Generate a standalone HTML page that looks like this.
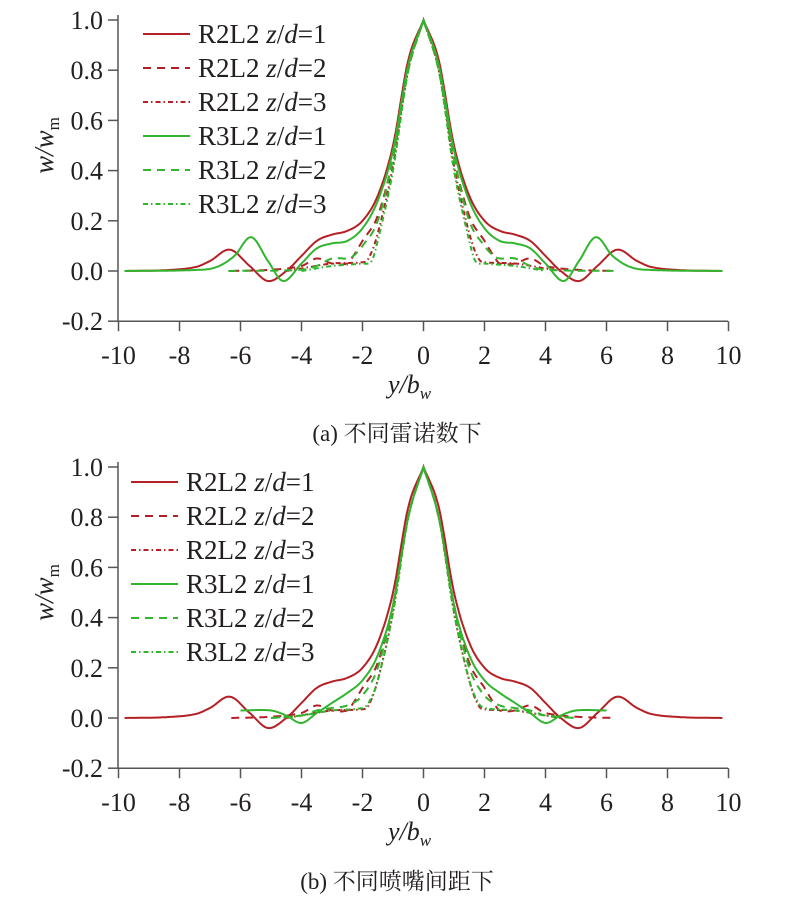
<!DOCTYPE html>
<html><head><meta charset="utf-8"><style>
body{margin:0;background:#fff}
svg text{font-family:"Liberation Serif","Noto Serif CJK SC",serif;fill:#231f20}
</style></head><body>
<svg id="s" width="795" height="914" xmlns="http://www.w3.org/2000/svg"></svg>
<script>
const S=document.getElementById('s');const NS='http://www.w3.org/2000/svg';
function el(t,a,txt){const e=document.createElementNS(NS,t);for(const k in a)e.setAttribute(k,a[k]);if(txt!==undefined)e.innerHTML=txt;S.appendChild(e);return e;}
const RED='#b52026',GRN='#31b52f';
function interp(pts,x){for(let i=0;i<pts.length-1;i++){if(x>=pts[i][0]&&x<=pts[i+1][0]){const p0=pts[Math.max(i-1,0)],p1=pts[i],p2=pts[i+1],p3=pts[Math.min(i+2,pts.length-1)];const t=(x-p1[0])/(p2[0]-p1[0]);const m1=(p2[1]-p0[1])/(p2[0]-p0[0]||1)*(p2[0]-p1[0]);const m2=(p3[1]-p1[1])/(p3[0]-p1[0]||1)*(p2[0]-p1[0]);const t2=t*t,t3=t2*t;return (2*t3-3*t2+1)*p1[1]+(t3-2*t2+t)*m1+(-2*t3+3*t2)*p2[1]+(t3-t2)*m2;}}return 0;}
function chart(y0,zeroY,lx,ly,curves){
 const X=v=>423.5+30.5*v, Y=v=>zeroY-251*v;
 el('line',{x1:118,y1:Y(1.02),x2:118,y2:Y(-0.2),stroke:'#555',"stroke-width":1.5});
 el('line',{x1:118,y1:Y(-0.2),x2:728,y2:Y(-0.2),stroke:'#555',"stroke-width":1.5});
 for(let v=-0.2;v<=1.001;v+=0.2){const y=Y(v);el('line',{x1:108,y1:y,x2:118,y2:y,stroke:'#555',"stroke-width":1.5});
  el('text',{x:103,y:y+9,"font-size":26,"text-anchor":"end"},Math.abs(v)<1e-6?'0.0':v.toFixed(1));}
 for(let v=-10;v<=10;v+=2){const x=X(v);el('line',{x1:x,y1:Y(-0.2),x2:x,y2:Y(-0.2)+10,stroke:'#555',"stroke-width":1.5});
  el('text',{x:x,y:Y(-0.2)+43,"font-size":26,"text-anchor":"middle"},String(v));}
 el('text',{x:388,y:Y(-0.2)+72,"font-size":26,"font-style":"italic"},'y/b<tspan font-size="17" dy="6">w</tspan>');
 el('text',{x:0,y:0,"font-size":27,transform:`translate(53,${Y(0.5)}) rotate(-90)`,"text-anchor":"middle","font-style":"italic"},'w/w<tspan font-size="17" dy="6" font-style="normal">m</tspan>');
 curves.forEach((c,i)=>{
  let d='';const xmax=c.p[c.p.length-1][0];
  for(let x=-xmax;x<=xmax+1e-9;x+=0.05){const v=interp(c.p,Math.abs(x));d+=(d?'L':'M')+X(x).toFixed(1)+','+Y(v).toFixed(1);}
  el('path',{d:d,fill:'none',stroke:c.c,"stroke-width":2,"stroke-dasharray":c.d||'none'});
  const yy=ly+i*34;
  el('line',{x1:lx,y1:yy,x2:lx+47,y2:yy,stroke:c.c,"stroke-width":2,"stroke-dasharray":c.d||'none'});
  el('text',{x:lx+55,y:yy+9,"font-size":27},c.n.replace(/z\/d/,'<tspan font-style="italic">z</tspan>/<tspan font-style="italic">d</tspan>'));
 });
}
const redS=[[0,1],[0.5,0.84],[1,0.5],[1.5,0.3],[2,0.2],[2.5,0.16],[3,0.145],[3.5,0.12],[4,0.06],[4.5,0.0],[5.1,-0.04],[5.7,0.02],[6.35,0.085],[7,0.04],[7.5,0.015],[8.5,0.003],[9.8,0]];
const redD=[[0,1],[0.5,0.8],[1,0.45],[1.5,0.22],[2,0.12],[2.3,0.06],[2.5,0.03],[3,0.03],[3.5,0.05],[4,0.02],[5,0.005],[6.3,0]];
const redDD=[[0,1],[0.5,0.8],[1,0.42],[1.5,0.15],[1.8,0.05],[2,0.035],[3,0.03],[4,0.01],[4.5,0]];
chart(20,271,143,34,[
 {n:'R2L2 z/d=1',c:RED,p:redS},
 {n:'R2L2 z/d=2',c:RED,d:'8,6',p:redD},
 {n:'R2L2 z/d=3',c:RED,d:'5,3,1.5,3',p:redDD},
 {n:'R3L2 z/d=1',c:GRN,p:[[0,1],[0.5,0.82],[1,0.48],[1.5,0.28],[2,0.17],[2.5,0.12],[3,0.11],[3.5,0.09],[4,0.03],[4.6,-0.04],[5.1,0.04],[5.65,0.135],[6.2,0.06],[6.8,0.015],[7.5,0.004],[9.8,0]]},
 {n:'R3L2 z/d=2',c:GRN,d:'8,6',p:[[0,1],[0.5,0.8],[1,0.45],[1.5,0.2],[2,0.1],[2.3,0.06],[2.5,0.05],[3,0.05],[3.5,0.02],[4,0.005],[6.4,0]]},
 {n:'R3L2 z/d=3',c:GRN,d:'5,3,1.5,3',p:[[0,1],[0.5,0.8],[1,0.4],[1.5,0.12],[1.7,0.04],[2,0.03],[3,0.02],[4,0]]}
]);
el('text',{x:397,y:441,"font-size":23,"text-anchor":"middle"},'(a) 不同雷诺数下');
chart(468,718,131,482,[
 {n:'R2L2 z/d=1',c:RED,p:redS},
 {n:'R2L2 z/d=2',c:RED,d:'8,6',p:redD},
 {n:'R2L2 z/d=3',c:RED,d:'5,3,1.5,3',p:redDD},
 {n:'R3L2 z/d=1',c:GRN,p:[[0,1],[0.5,0.8],[1,0.45],[1.5,0.25],[2,0.15],[2.5,0.1],[3,0.06],[3.5,0.02],[4,-0.02],[4.5,0.01],[5,0.03],[6,0.03]]},
 {n:'R3L2 z/d=2',c:GRN,d:'8,6',p:[[0,1],[0.5,0.8],[1,0.45],[1.5,0.2],[2,0.09],[2.5,0.05],[3,0.04],[3.5,0.03],[4,0.01],[5,0]]},
 {n:'R3L2 z/d=3',c:GRN,d:'5,3,1.5,3',p:[[0,1],[0.5,0.8],[1,0.42],[1.5,0.15],[1.8,0.06],[2,0.04],[3,0.03],[4,0.01],[5,0]]}
]);
el('text',{x:397,y:889,"font-size":23,"text-anchor":"middle"},'(b) 不同喷嘴间距下');
</script>
</body></html>
